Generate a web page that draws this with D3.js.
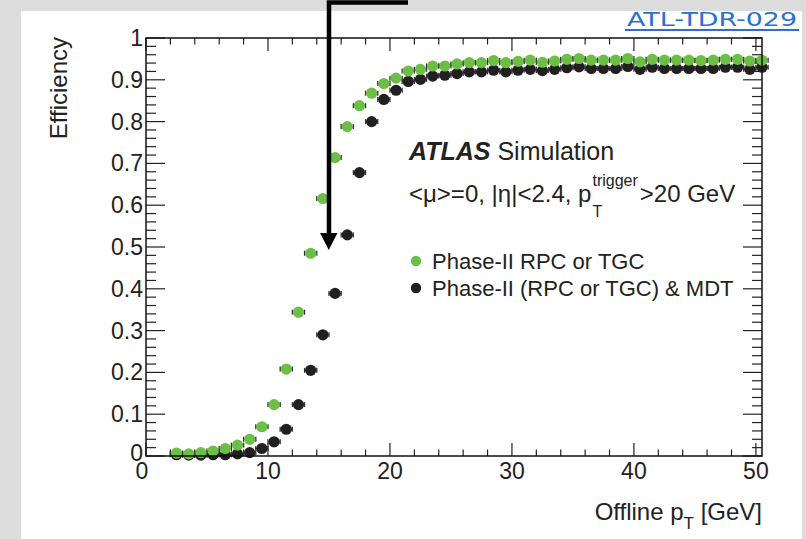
<!DOCTYPE html>
<html>
<head>
<meta charset="utf-8">
<script src="https://d3js.org/d3.v7.min.js"></script>
<style>
  body { margin: 0; background: #dcdcdc; }
  svg { display: block; }
  text { font-family: "Liberation Sans", Arial, Helvetica, sans-serif; fill: #222; }
</style>
</head>
<body>
<div id="chart"></div>
<script>

// offline pT bin centres [GeV]
var ptBins = [2.5, 3.5, 4.5, 5.5, 6.5, 7.5, 8.5, 9.5, 10.5, 11.5, 12.5, 13.5, 14.5, 15.5, 16.5, 17.5,
  18.5, 19.5, 20.5, 21.5, 22.5, 23.5, 24.5, 25.5, 26.5, 27.5, 28.5, 29.5, 30.5, 31.5, 32.5, 33.5,
  34.5, 35.5, 36.5, 37.5, 38.5, 39.5, 40.5, 41.5, 42.5, 43.5, 44.5, 45.5, 46.5, 47.5, 48.5, 49.5, 50.5];

// Phase-II RPC or TGC (green)
var effRpcOrTgc = [0.007, 0.005, 0.008, 0.012, 0.018, 0.026, 0.040, 0.070, 0.123, 0.208, 0.344, 0.485,
  0.616, 0.714, 0.788, 0.838, 0.868, 0.891, 0.904, 0.921, 0.925, 0.933, 0.933, 0.938, 0.941, 0.941,
  0.946, 0.941, 0.944, 0.947, 0.942, 0.945, 0.949, 0.951, 0.947, 0.947, 0.947, 0.951, 0.943, 0.949,
  0.947, 0.947, 0.947, 0.946, 0.947, 0.949, 0.949, 0.945, 0.947];

// Phase-II (RPC or TGC) & MDT (black)
var effWithMdt = [0.003, 0.002, 0.002, 0.003, 0.003, 0.005, 0.008, 0.018, 0.034, 0.064, 0.123, 0.205,
  0.290, 0.389, 0.529, 0.678, 0.800, 0.853, 0.875, 0.896, 0.901, 0.909, 0.911, 0.915, 0.919, 0.919,
  0.923, 0.919, 0.923, 0.925, 0.922, 0.925, 0.929, 0.931, 0.927, 0.927, 0.927, 0.932, 0.925, 0.930,
  0.927, 0.927, 0.927, 0.927, 0.927, 0.930, 0.930, 0.925, 0.930];

var xTicks = [0, 10, 20, 30, 40, 50];
var yTicks = [0, 0.1, 0.2, 0.3, 0.4, 0.5, 0.6, 0.7, 0.8, 0.9, 1];
var legendLabels = ["Phase-II RPC or TGC", "Phase-II (RPC or TGC) & MDT"];
var seriesColors = ["#6cbf45", "#231f20"];

var W = 806, H = 539;
var margin = {top: 38, right: 44, bottom: 83, left: 146};
var width = W - margin.left - margin.right,
    height = H - margin.top - margin.bottom;

var svg = d3.select("#chart").append("svg")
    .attr("width", W)
    .attr("height", H);

// white page panel on the grey background
svg.append("rect")
    .attr("x", 21).attr("y", 11)
    .attr("width", 781).attr("height", H - 11)
    .attr("fill", "#fff");

var g = svg.append("g")
    .attr("transform", "translate(" + margin.left + "," + margin.top + ")");

var x = d3.scaleLinear().domain([0, 50.5]).range([0, width]);
var y = d3.scaleLinear().domain([0, 1]).range([height, 0]);

// ROOT style ticks on all four sides
var xMinor = d3.range(0, 51, 2), yMinor = d3.range(0, 1.0001, 0.02);

g.append("g").selectAll("line").data(xMinor).enter().append("line")
    .attr("x1", function(d) { return x(d); }).attr("x2", function(d) { return x(d); })
    .attr("y1", height).attr("y2", function(d) { return height - (d % 10 === 0 ? 13 : 6.5); })
    .attr("stroke", "#222").attr("stroke-width", 1.2);
g.append("g").selectAll("line").data(xMinor).enter().append("line")
    .attr("x1", function(d) { return x(d); }).attr("x2", function(d) { return x(d); })
    .attr("y1", 0).attr("y2", function(d) { return d % 10 === 0 ? 13 : 6.5; })
    .attr("stroke", "#222").attr("stroke-width", 1.2);
g.append("g").selectAll("line").data(yMinor).enter().append("line")
    .attr("y1", function(d) { return y(d); }).attr("y2", function(d) { return y(d); })
    .attr("x1", 0).attr("x2", function(d) { return Math.round(d * 50) % 5 === 0 ? 19 : 10; })
    .attr("stroke", "#222").attr("stroke-width", 1.2);
g.append("g").selectAll("line").data(yMinor).enter().append("line")
    .attr("y1", function(d) { return y(d); }).attr("y2", function(d) { return y(d); })
    .attr("x1", width).attr("x2", function(d) { return width - (Math.round(d * 50) % 5 === 0 ? 19 : 10); })
    .attr("stroke", "#222").attr("stroke-width", 1.2);

// tick labels
g.append("g").selectAll("text").data(xTicks).enter().append("text")
    .attr("x", function(d) { return x(d) - (d === 0 ? 4 : 0); })
    .attr("y", height + 23)
    .attr("text-anchor", "middle")
    .style("font-size", "23px")
    .text(function(d) { return d; });
g.append("g").selectAll("text").data(yTicks).enter().append("text")
    .attr("x", -3)
    .attr("y", function(d) { return y(d) + (d === 0 ? 5 : 8); })
    .attr("text-anchor", "end")
    .style("font-size", "23px")
    .text(function(d) { return d3.format("")(+d.toFixed(1)); });

// axis titles
var xt = svg.append("text")
    .attr("x", margin.left + width)
    .attr("y", 520)
    .attr("text-anchor", "end")
    .style("font-size", "24px");
xt.append("tspan").text("Offline p");
xt.append("tspan").attr("dy", 9).style("font-size", "17px").text("T");
xt.append("tspan").attr("dy", -9).text(" [GeV]");

svg.append("text")
    .attr("transform", "translate(67,37) rotate(-90)")
    .attr("text-anchor", "end")
    .style("font-size", "24px")
    .text("Efficiency");

// points with horizontal error bars, MDT first so green sits on top
var series = [
  {vals: effWithMdt, color: seriesColors[1]},
  {vals: effRpcOrTgc, color: seriesColors[0]}
];
series.forEach(function(s) {
  var pts = ptBins.map(function(p, i) { return {x: p, y: s.vals[i]}; });
  var pg = g.append("g");
  pg.selectAll(".err").data(pts).enter().append("line")
      .attr("x1", function(d) { return x(d.x - 0.5); })
      .attr("x2", function(d) { return x(d.x + 0.5); })
      .attr("y1", function(d) { return y(d.y); })
      .attr("y2", function(d) { return y(d.y); })
      .attr("stroke", "#333").attr("stroke-width", 1.3);
  pg.selectAll(".capl").data(pts).enter().append("line")
      .attr("x1", function(d) { return x(d.x - 0.5); })
      .attr("x2", function(d) { return x(d.x - 0.5); })
      .attr("y1", function(d) { return y(d.y) - 2.5; })
      .attr("y2", function(d) { return y(d.y) + 2.5; })
      .attr("stroke", "#333").attr("stroke-width", 1.3);
  pg.selectAll(".capr").data(pts).enter().append("line")
      .attr("x1", function(d) { return x(d.x + 0.5); })
      .attr("x2", function(d) { return x(d.x + 0.5); })
      .attr("y1", function(d) { return y(d.y) - 2.5; })
      .attr("y2", function(d) { return y(d.y) + 2.5; })
      .attr("stroke", "#333").attr("stroke-width", 1.3);
  pg.selectAll("circle").data(pts).enter().append("circle")
      .attr("cx", function(d) { return x(d.x); })
      .attr("cy", function(d) { return y(d.y); })
      .attr("r", 5.6)
      .attr("fill", s.color);
});

// frame
g.append("rect")
    .attr("width", width).attr("height", height)
    .attr("fill", "none").attr("stroke", "#111").attr("stroke-width", 1.5);

// ATLAS label
var t1 = svg.append("text").attr("x", 409).attr("y", 160).style("font-size", "25px");
t1.append("tspan").style("font-weight", "bold").style("font-style", "italic").text("ATLAS");
t1.append("tspan").text(" Simulation");

var t2 = svg.append("text").attr("x", 409).attr("y", 202).style("font-size", "24px")
    .text("<\u03bc>=0, |\u03b7|<2.4, p");
var px = 409 + t2.node().getComputedTextLength() + 1;
svg.append("text").attr("x", px).attr("y", 217).style("font-size", "16px").text("T");
var sup = svg.append("text").attr("x", px).attr("y", 186).style("font-size", "16px").text("trigger");
svg.append("text")
    .attr("x", px + sup.node().getComputedTextLength() + 2)
    .attr("y", 202).style("font-size", "24px")
    .text(">20 GeV");

// legend
var leg = svg.append("g").selectAll("g").data(legendLabels).enter().append("g")
    .attr("transform", function(d, i) { return "translate(416," + (261 + i * 27) + ")"; });
leg.append("circle").attr("r", 5.2).attr("fill", function(d, i) { return seriesColors[i]; });
leg.append("text").attr("x", 16).attr("y", 7.5).style("font-size", "22px").text(function(d) { return d; });

// annotation arrow
svg.append("path")
    .attr("d", "M408,2.5 L329,2.5 L329,236")
    .attr("fill", "none").attr("stroke", "#000").attr("stroke-width", 4.5);
svg.append("path")
    .attr("d", "M320,233 L337.5,233 L328.8,250 Z")
    .attr("fill", "#000");

// handwritten reference link
svg.append("text")
    .attr("x", 627).attr("y", 26)
    .attr("textLength", 170).attr("lengthAdjust", "spacingAndGlyphs")
    .style("font-family", "DejaVu Sans")
    .style("font-size", "19px")
    .style("fill", "#2a6fd6")
    .text("ATL-TDR-029");
svg.append("line")
    .attr("x1", 625).attr("x2", 799).attr("y1", 30).attr("y2", 30)
    .attr("stroke", "#2a6fd6").attr("stroke-width", 2);

</script>
</body>
</html>
